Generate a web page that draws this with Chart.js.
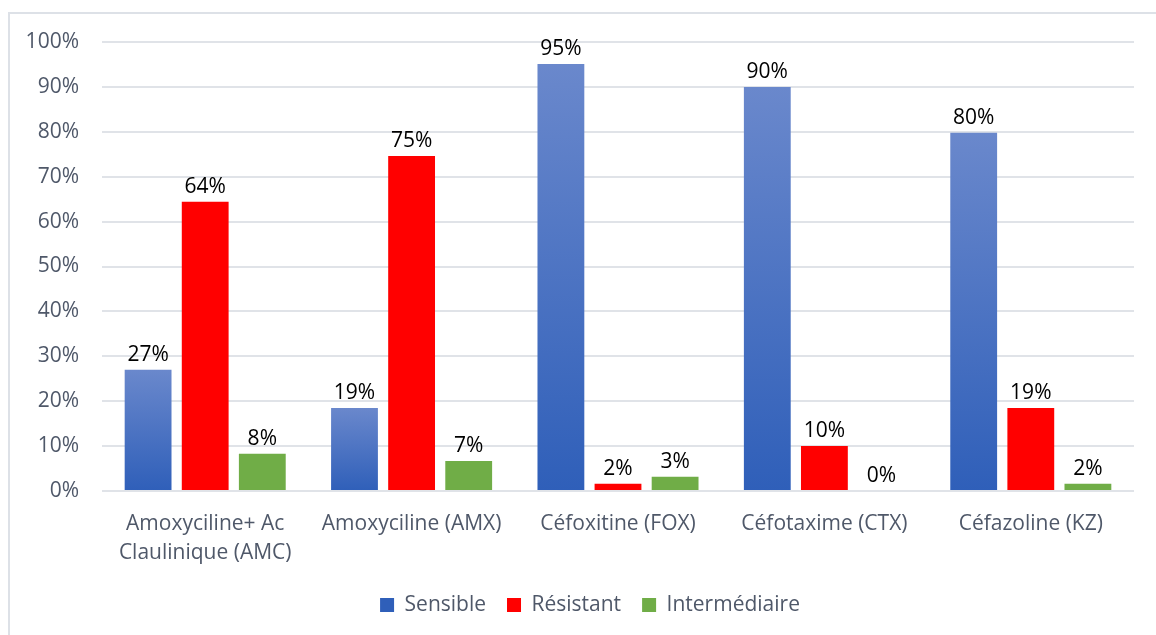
<!DOCTYPE html>
<html>
<head>
<meta charset="utf-8">
<script src="https://cdn.jsdelivr.net/npm/chart.js@4/dist/chart.umd.min.js"></script>
<style>
  html, body { margin: 0; padding: 0; background: #fff; width: 1156px; height: 635px; overflow: hidden; }
  #frame { position: absolute; left: 8px; top: 12px; width: 1160px; height: 640px;
           border-top: 2px solid #dde1e7; border-left: 2px solid #dde1e7; box-sizing: border-box; }
  #wrap { position: absolute; left: 0; top: 0; width: 1156px; height: 635px; }
</style>
</head>
<body>
<div id="frame"></div>
<div id="wrap"><canvas id="c" width="1156" height="635"></canvas></div>
<script>
const categories = [
  ["Amoxyciline+ Ac", "Claulinique (AMC)"],
  "Amoxyciline (AMX)",
  "Céfoxitine (FOX)",
  "Céfotaxime (CTX)",
  "Céfazoline (KZ)"
];
const sensible = [27.0, 18.5, 95.1, 90.0, 79.8];
const resistant = [64.4, 74.6, 1.6, 10.0, 18.5];
const intermediaire = [8.3, 6.7, 3.2, 0, 1.6];
const yTicks = [0, 10, 20, 30, 40, 50, 60, 70, 80, 90, 100];

const FONT = "'Open Sans', Lato, 'Liberation Sans', sans-serif";
const FSIZE = 21;
const axisColor = '#4f5869';

function blueGradient(context) {
  const chart = context.chart;
  const area = chart.chartArea;
  if (!area || context.type !== 'data') return '#4472c4';
  const y = chart.scales.y;
  const top = y.getPixelForValue(context.raw);
  const bottom = y.getPixelForValue(0);
  if (!isFinite(top) || !isFinite(bottom) || top === bottom) return '#4472c4';
  const g = chart.ctx.createLinearGradient(0, top, 0, bottom);
  g.addColorStop(0, '#6a88cc');
  g.addColorStop(1, '#2f5fb9');
  return g;
}

const labelPlugin = {
  id: 'valueLabels',
  afterDatasetsDraw(chart) {
    const ctx = chart.ctx;
    ctx.save();
    ctx.font = FSIZE + "px " + FONT;
    ctx.fillStyle = '#000';
    ctx.textAlign = 'center';
    ctx.textBaseline = 'alphabetic';
    chart.data.datasets.forEach((ds, di) => {
      const meta = chart.getDatasetMeta(di);
      meta.data.forEach((bar, i) => {
        const v = ds.data[i];
        ctx.fillText(Math.round(v) + '%', bar.x, bar.y - 9);
      });
    });
    ctx.restore();
  }
};

const legendShift = {
  id: 'legendShift',
  afterLayout(chart) {
    if (chart.legend) { chart.legend.left += 13; chart.legend.right += 13; }
  }
};

new Chart(document.getElementById('c'), {
  type: 'bar',
  data: {
    labels: categories,
    datasets: [
      { label: 'Sensible', data: sensible, backgroundColor: blueGradient, borderWidth: 0 },
      { label: 'Résistant', data: resistant, backgroundColor: '#ff0000', borderWidth: 0 },
      { label: 'Intermédiaire', data: intermediaire, backgroundColor: '#70ad47', borderWidth: 0 }
    ]
  },
  options: {
    responsive: false,
    animation: false,
    layout: { padding: { left: 20, right: 22, top: 42, bottom: 9.5 } },
    datasets: { bar: { categoryPercentage: 0.83, barPercentage: 0.82 } },
    scales: {
      x: {
        grid: { display: false, drawTicks: false },
        border: { display: false },
        ticks: { color: axisColor, font: { family: FONT, size: FSIZE, lineHeight: 1.38 }, padding: 19, maxRotation: 0, autoSkip: false },
        afterFit(scale) { scale.height = 82.5; }
      },
      y: {
        min: 0, max: 100,
        afterBuildTicks(scale) { scale.ticks = yTicks.map(v => ({ value: v })); },
        grid: { color: '#e0e3e8', lineWidth: 2, drawTicks: false },
        border: { display: false },
        ticks: { color: axisColor, font: { family: FONT, size: FSIZE }, padding: 23, callback: v => v + '%' },
        afterFit(scale) { scale.width = 82; }
      }
    },
    plugins: {
      legend: {
        position: 'bottom',
        labels: { color: axisColor, font: { family: FONT, size: FSIZE }, boxWidth: 14, boxHeight: 14, padding: 21 }
      },
      tooltip: { enabled: false }
    }
  },
  plugins: [labelPlugin, legendShift]
});
</script>
</body>
</html>
